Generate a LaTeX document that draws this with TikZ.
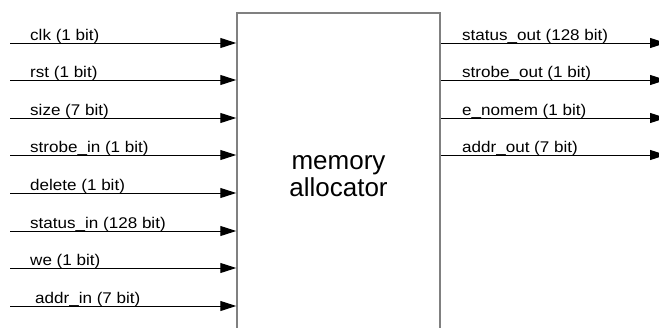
\documentclass[tikz,border=0pt]{standalone}
\usepackage{fontspec}
\setmainfont{Liberation Sans}
\newfontfamily\sigfont{Liberation Sans}[FakeStretch=1.1]
\usetikzlibrary{arrows.meta}
\tikzset{
  blockbox/.style={draw=black!50,line width=1.5pt,fill=white,align=center,
    minimum width=203pt,minimum height=327pt,inner sep=0pt,
    font=\fontsize{26}{27}\selectfont},
  sig/.style={line width=1pt,-{Triangle[length=16pt,width=10pt]}},
  siglabel/.style={anchor=base west,inner sep=0pt,
    font=\sigfont\fontsize{15.5}{17}\selectfont}
}
\begin{document}
\begin{tikzpicture}[x=1pt,y=-1pt]
\useasboundingbox (0,0) rectangle (659,327);
\node[blockbox] (alloc) at (338.5,176.5) {memory\\allocator};
% inputs
\foreach \n/\y/\dx/\txt in {clk/43/0/clk (1 bit),rst/80/0/rst (1 bit),
    size/118/0/size (7 bit),strobein/155/0/strobe\_in (1 bit),
    delete/193/0/delete (1 bit),statusin/231/0/status\_in (128 bit),
    we/268/0/we (1 bit),addrin/306/5/addr\_in (7 bit)}{
  \coordinate (in-\n) at (10,\y);
  \draw[sig] (in-\n) -- (in-\n -| alloc.west);
  \node[siglabel] (lbl-\n) at (30+\dx,\y-3) {\txt};
}
% outputs
\foreach \n/\y/\txt in {statusout/43/status\_out (128 bit),
    strobeout/80/strobe\_out (1 bit),enomem/118/e\_nomem (1 bit),
    addrout/155/addr\_out (7 bit)}{
  \coordinate (out-\n) at (666,\y);
  \draw[sig] (out-\n -| alloc.east) -- (out-\n);
  \node[siglabel] (lbl-\n) at (462,\y-3) {\txt};
}
\end{tikzpicture}
\end{document}
